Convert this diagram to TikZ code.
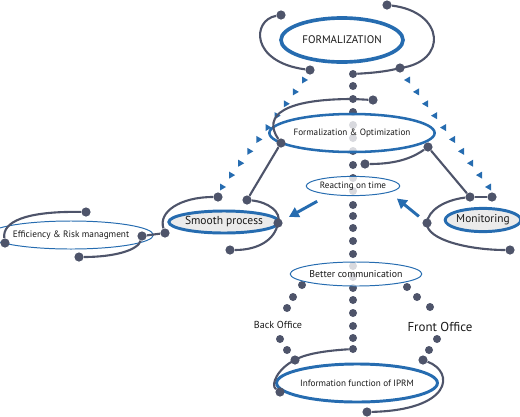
\documentclass[tikz,border=0pt]{standalone}
\usepackage{fontspec}
\setmainfont{PT Sans}
\usetikzlibrary{arrows.meta}
\usetikzlibrary{shapes.geometric}
\usetikzlibrary{calc}
\definecolor{ringblue}{RGB}{38,108,176}
\definecolor{orbitgray}{RGB}{78,84,106}
\tikzset{bubble/.style={ellipse,draw=ringblue,fill=white,fill opacity=0.78,text opacity=1,inner sep=0pt,text=black!90}}
\tikzset{bead/.style={circle,fill=orbitgray,inner sep=0pt,minimum size=0.2cm}}
\tikzset{knob/.style={circle,fill=orbitgray,inner sep=0pt,minimum size=0.23cm}}
\tikzset{orbit/.style={draw=orbitgray,line width=1.5pt}}
\tikzset{pointer/.style={ringblue,line width=2.1pt,-{Triangle[length=7pt,width=7.5pt]}}}

\begin{document}
\begin{tikzpicture}[x=0.025cm,y=-0.025cm]
    \useasboundingbox (0,0) rectangle (520,416);
    \foreach \y [count=\k] in {74,86,99,112,125,138,151,165,178,191,205,216,228,241,254,266,277,288,300,313,326,338,349}
        \node[bead] (col-\k) at (353,\y) {};
    \foreach \x/\y [count=\k] in {302/285,293/297,287/308,280/339,287/350}
        \node[bead] (back-\k) at (\x,\y) {};
    \foreach \x/\y [count=\k] in {407/287,417/297,430/307,437/339,429/350}
        \node[bead] (front-\k) at (\x,\y) {};

    \node[bubble,line width=2.6pt,minimum width=3.05cm,minimum height=1.1cm,font=\fontsize{7.8}{9}\selectfont] (formal) at (342,40) {FORMALIZATION};
    \node[bubble,line width=1.8pt,minimum width=3.4cm,minimum height=0.95cm,font=\fontsize{6.5}{8}\selectfont] (optim) at (352,133) {Formalization \& Optimization};
    \node[bubble,line width=0.7pt,minimum width=2.15cm,minimum height=0.48cm,font=\fontsize{6.5}{8}\selectfont] (react) at (353,186) {Reacting on time};
    \node[bubble,line width=2.1pt,fill=black!8,fill opacity=1,minimum width=2.3cm,minimum height=0.55cm,font=\fontsize{8.2}{9}\selectfont] (smooth) at (224,222) {Smooth process};
    \node[bubble,line width=0.7pt,minimum width=3.2cm,minimum height=0.7cm,font=\fontsize{6.6}{8}\selectfont] (effic) at (71,235) {Efficiency \& Risk managment};
    \node[bubble,line width=2.1pt,fill=black!8,fill opacity=1,minimum width=1.75cm,minimum height=0.58cm,font=\fontsize{8.1}{9}\selectfont] (monit) at (483,220) {Monitoring};
    \node[bubble,line width=0.7pt,minimum width=2.65cm,minimum height=0.6cm,font=\fontsize{7}{8}\selectfont] (better) at (356,274) {Better communication};
    \node[bubble,line width=2.1pt,minimum width=3.35cm,minimum height=0.95cm,font=\fontsize{6.5}{8}\selectfont] (iprm) at (357,383) {Information function of IPRM};

    \node[text=black!90,font=\fontsize{7.2}{8}\selectfont] (backlbl) at (278,325) {Back Office};
    \node[text=black!90,font=\fontsize{9.2}{10}\selectfont] (frontlbl) at (440,327) {Front Office};

    \coordinate (tl-top) at (305,80);
    \coordinate (tl-bot) at (223,187);
    \coordinate (tr-top) at (407,80);
    \coordinate (tr-bot) at (488,187);
    \foreach \i in {0,...,9} {
        \fill[ringblue] ($(tl-top)!\i/9!(tl-bot)$) ++(-3,-3.5) -- ++(6,3.5) -- ++(-6,3.5) -- cycle;
        \fill[ringblue] ($(tr-top)!\i/9!(tr-bot)$) ++(3,-3.5) -- ++(-6,3.5) -- ++(6,3.5) -- cycle;
    }

    \node[knob] (f-nw) at (281,15) {};
    \node[knob] (f-sw) at (310,70) {};
    \node[knob] (f-ne) at (387,5) {};
    \node[knob] (f-se) at (400,68) {};
    \node[knob] (o-ne) at (373,100) {};
    \node[knob] (o-w) at (281,143) {};
    \node[knob] (o-se) at (365,164) {};
    \node[knob] (o-e) at (428,147) {};
    \node[knob] (s-nw) at (218,197) {};
    \node[knob] (s-w) at (165,233) {};
    \node[knob] (s-ne) at (247,200) {};
    \node[knob] (s-e) at (278,223) {};
    \node[knob] (s-s) at (230,250) {};
    \node[knob] (e-n) at (86,212) {};
    \node[knob] (e-w) at (5,243) {};
    \node[knob] (e-s) at (79,257) {};
    \node[knob] (e-e) at (142,236) {};
    \node[knob] (m-nw) at (470,197) {};
    \node[knob] (m-ne) at (492,197) {};
    \node[knob] (m-w) at (427,223) {};
    \node[knob] (m-se) at (510,250) {};
    \node[knob] (i-nw) at (295,360) {};
    \node[knob] (i-w) at (280,392) {};
    \node[knob] (i-ne) at (423,360) {};
    \node[knob] (i-s) at (367,412) {};

    \draw[orbit] (f-nw) .. controls (252,20) and (250,62) .. (f-sw);
    \draw[orbit] (f-ne) .. controls (445,12) and (448,62) .. (f-se.center) .. controls (385,72) and (370,73) .. (col-1);
    \draw[orbit] (o-ne) -- (col-3.center) .. controls (285,99) and (262,115) .. (o-w);
    \draw[orbit] (o-se) .. controls (400,164) and (415,156) .. (o-e);
    \draw[orbit] (o-w) -- (s-ne);
    \draw[orbit] (o-e) -- (m-nw);
    \draw[orbit] (s-nw) .. controls (180,197) and (158,212) .. (s-w);
    \draw[orbit] (s-ne) .. controls (268,202) and (282,212) .. (s-e.center) .. controls (275,240) and (258,250) .. (s-s);
    \draw[orbit] (s-w) -- (e-e);
    \draw[orbit] (e-n) .. controls (25,211) and (2,222) .. (e-w);
    \draw[orbit] (e-s) .. controls (115,257) and (138,250) .. (e-e);
    \draw[orbit] (m-nw) -- (m-ne);
    \draw[orbit] (m-nw) .. controls (445,200) and (428,210) .. (m-w.center) .. controls (426,240) and (470,250) .. (m-se);
    \draw[orbit] (col-23) .. controls (320,351) and (303,355) .. (i-nw.center) .. controls (278,368) and (270,385) .. (i-w);
    \draw[orbit] (i-ne) .. controls (455,372) and (452,410) .. (i-s);

    \draw[pointer,shorten <=0.34cm,shorten >=0.19cm] (react.-160) -- (s-e);
    \draw[pointer,shorten <=0.14cm,shorten >=0.24cm] (m-w) -- (react.-10);
\end{tikzpicture}
\end{document}
